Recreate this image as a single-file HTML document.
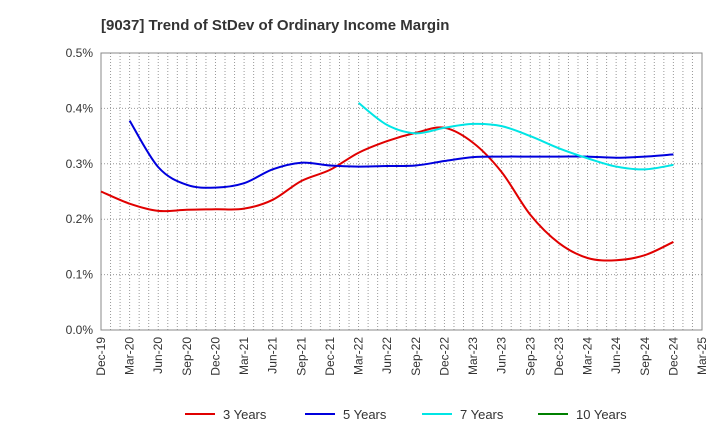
<!DOCTYPE html>
<html><head><meta charset="utf-8"><style>
body{margin:0;background:#fff;font-family:"Liberation Sans",Arial,sans-serif}
</style></head><body>
<svg id="c" width="720" height="440" xmlns="http://www.w3.org/2000/svg">
<text x="101" y="30" font-size="15" font-weight="bold" fill="#333">[9037]  Trend of StDev of Ordinary Income Margin</text>
<g id="grid"></g><g id="axes"></g><g id="series"></g><g id="legend"></g>
</svg>
<script>
const xLabels=["Dec-19","Mar-20","Jun-20","Sep-20","Dec-20","Mar-21","Jun-21","Sep-21","Dec-21","Mar-22","Jun-22","Sep-22","Dec-22","Mar-23","Jun-23","Sep-23","Dec-23","Mar-24","Jun-24","Sep-24","Dec-24","Mar-25"];
const yTicks=[0,0.1,0.2,0.3,0.4,0.5];
const seriesNames=["3 Years","5 Years","7 Years","10 Years"];
const seriesColors=["#e00000","#0000dd","#00e5e5","#008000"];
const s3Start=0;
const s3=[0.250,0.228,0.215,0.217,0.218,0.219,0.235,0.269,0.289,0.320,0.341,0.356,0.365,0.338,0.285,0.208,0.157,0.130,0.126,0.135,0.159];
const s5Start=1;
const s5=[0.378,0.294,0.262,0.257,0.265,0.290,0.302,0.297,0.295,0.296,0.297,0.305,0.312,0.313,0.313,0.313,0.313,0.311,0.313,0.317];
const s7Start=9;
const s7=[0.410,0.370,0.355,0.365,0.372,0.368,0.350,0.328,0.310,0.295,0.290,0.298];
const s10Start=0;
const s10=[];
const L=101,R=702,T=53,B=330;
const NS="http://www.w3.org/2000/svg";
const xs=i=>L+i*(R-L)/(xLabels.length-1);
const ys=v=>B-v/0.5*(B-T);
function mk(t,a,p){const e=document.createElementNS(NS,t);for(const k in a)e.setAttribute(k,a[k]);p.appendChild(e);return e;}
const g=document.getElementById('grid'),ax=document.getElementById('axes'),se=document.getElementById('series'),lg=document.getElementById('legend');
for(let m=1;m<(xLabels.length-1)*3;m++){const x=L+m*(R-L)/((xLabels.length-1)*3);
 const l=mk('line',{x1:x,x2:x,y1:T,y2:B,stroke:'#999','stroke-dasharray':'1,2','stroke-width':1},g);
 
 }
yTicks.forEach(v=>{const y=ys(v);
 if(v>0){const l=mk('line',{x1:L,x2:R,y1:y,y2:y,stroke:'#999','stroke-dasharray':'1,2'},g);
 
 }
 const t=mk('text',{x:L-8,y:y+4,'text-anchor':'end','font-size':12,fill:'#333'},ax);t.textContent=v.toFixed(1)+'%';
 
 });
const fr=mk('rect',{x:L,y:T,width:R-L,height:B-T,fill:'none',stroke:'#888'},ax);


xLabels.forEach((s,i)=>{const x=xs(i);const t=mk('text',{transform:`translate(${x+4},${B+7}) rotate(-90)`,'text-anchor':'end','font-size':12,fill:'#333'},ax);t.textContent=s;
 
 });
function path(data,start){const p=data.map((v,i)=>[xs(start+i),ys(v)]);if(p.length<2)return '';
 let d=`M${p[0][0]},${p[0][1]}`;
 for(let i=0;i<p.length-1;i++){const p0=p[i-1]||p[i],p1=p[i],p2=p[i+1],p3=p[i+2]||p2;
  d+=` C${p1[0]+(p2[0]-p0[0])/6},${p1[1]+(p2[1]-p0[1])/6} ${p2[0]-(p3[0]-p1[0])/6},${p2[1]-(p3[1]-p1[1])/6} ${p2[0]},${p2[1]}`;}
 return d;}
[[s3,s3Start],[s5,s5Start],[s7,s7Start],[s10,s10Start]].forEach(([d,st],k)=>{if(!d.length)return;
 const e=mk('path',{d:path(d,st),fill:'none',stroke:seriesColors[k],'stroke-width':2},se);
 
 });
const lx=[185,305,422,538];
seriesNames.forEach((n,k)=>{const gg=mk('g',{},lg);
 
 
 mk('line',{x1:lx[k],x2:lx[k]+30,y1:414,y2:414,stroke:seriesColors[k],'stroke-width':2},gg);
 const t=mk('text',{x:lx[k]+38,y:419,'font-size':13,fill:'#333'},gg);t.textContent=n;});
</script>
</body></html>
